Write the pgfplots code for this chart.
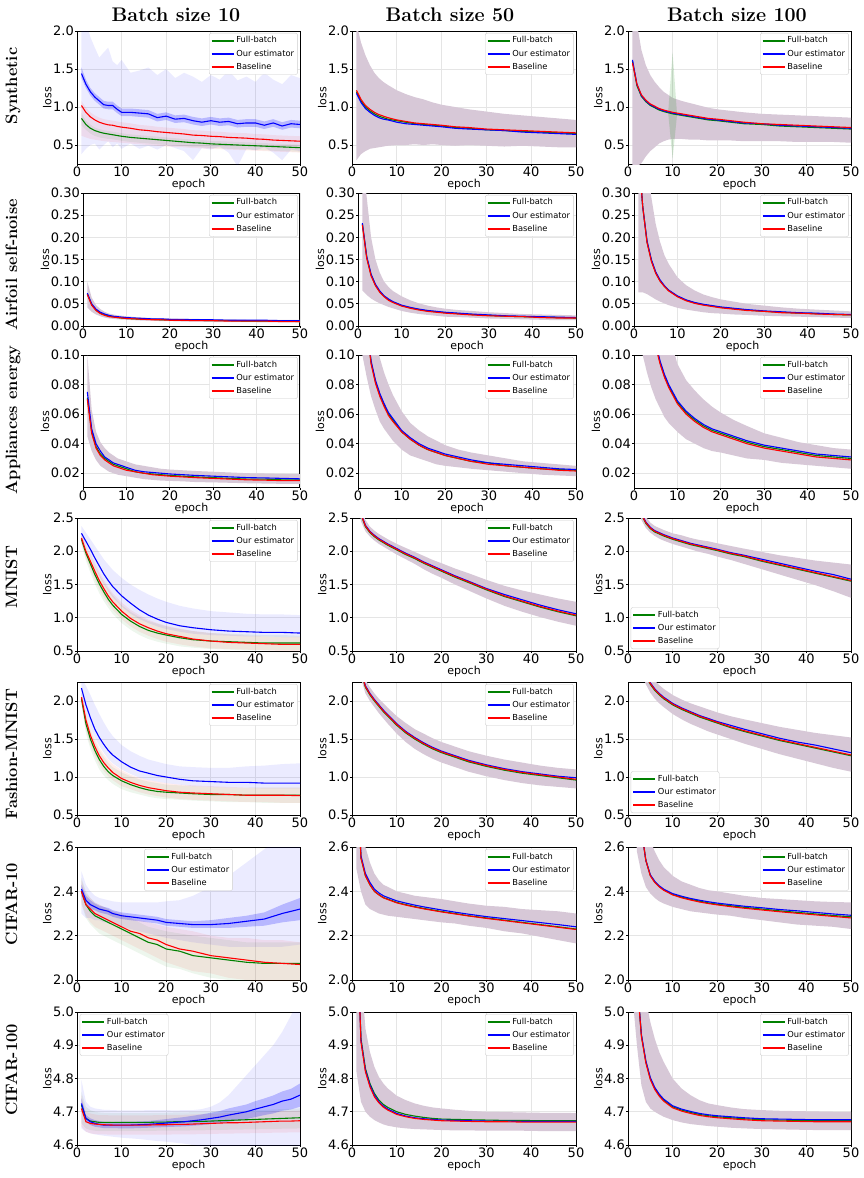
\documentclass[border=0pt]{standalone}
\usepackage{fontspec}
\usepackage{pgfplots}
\pgfplotsset{compat=1.18}
\usepackage{pgfplotstable}
\usepgfplotslibrary{fillbetween}
\newfontfamily\dv{DejaVu Sans}
\definecolor{mplgreen}{RGB}{0,128,0}
\definecolor{mplblue}{RGB}{0,0,255}
\definecolor{mplred}{RGB}{255,0,0}
\definecolor{bandmauve}{RGB}{215,200,215}

\pgfplotsset{
  panel/.style={
    scale only axis, width=223pt, height=133pt, anchor=north west,
    clip bounding box=upper bound,
    xmin=0, xmax=50, xtick={0,10,20,30,40,50},
    grid=major, grid style={draw=black!10, line width=0.8pt},
    axis line style={draw=black, line width=1pt},
    tick align=outside, xtick pos=left, ytick pos=left,
    major tick length=2pt, tick style={black, line width=0.8pt},
    ticklabel style={font=\dv\fontsize{13}{13}\selectfont, inner sep=1pt},
    /pgf/number format/assume math mode=true,
    scaled ticks=false,
    xlabel={epoch}, ylabel={loss},
    label style={font=\dv\fontsize{11}{13}\selectfont},
    xlabel style={inner sep=1pt}, ylabel style={inner sep=0.5pt},
    legend cell align=left,
    legend style={font=\dv\fontsize{8.3}{9.5}\selectfont, draw=black!20,
      rounded corners=2pt, fill=white,
      at={(0.99,0.985)}, anchor=north east, inner xsep=1.5pt, inner ysep=1.5pt,
      row sep=1pt, nodes={inner sep=2pt, text height=6.3pt, text depth=1.8pt}},
    legend image code/.code={\draw[##1, line width=1.6pt] (0pt,0pt) -- (22pt,0pt);},
  },
  yfmt/.style={yticklabel style={/pgf/number format/.cd, fixed, fixed zerofill, precision=#1}},
  gline/.style={color=mplgreen, line width=1.1pt},
  bline/.style={color=mplblue, line width=1.1pt},
  rline/.style={color=mplred, line width=1.1pt},
  gfill/.style={draw=none, fill=mplgreen, fill opacity=0.07, forget plot},
  bfill/.style={draw=none, fill=mplblue, fill opacity=0.08, forget plot},
  rfill/.style={draw=none, fill=mplred, fill opacity=0.07, forget plot},
  bnfill/.style={draw=none, fill=mplblue, fill opacity=0.22, forget plot},
  mfill/.style={draw=none, fill=bandmauve, forget plot},
  lowleft/.style={legend style={at={(0.012,0.015)}, anchor=south west}},
  upcenter/.style={legend style={at={(0.5,0.985)}, anchor=north}},
  upleft/.style={legend style={at={(0.012,0.985)}, anchor=north west}},
}

% a named boundary curve taken from one column of a table
\newcommand{\edge}[2]{\addplot[draw=none, forget plot, name path=#2] table[x=x, y=#2] {#1};}
% three mean curves and the legend
\newcommand{\means}[1]{%
  \addplot[gline] table[x=x, y=gm] {#1};
  \addplot[bline] table[x=x, y=bm] {#1};
  \addplot[rline] table[x=x, y=rm] {#1};
  \legend{Full-batch, Our estimator, Baseline}}
% one common spread for the three runs (they overlap almost exactly)
\newcommand{\sharedband}[1]{%
  \edge{#1}{lo}\edge{#1}{hi}
  \addplot[mfill] fill between[of=lo and hi];
  \means{#1}}
% a separate spread for each run
\newcommand{\ownbands}[1]{%
  \edge{#1}{glo}\edge{#1}{ghi}\edge{#1}{blo}\edge{#1}{bhi}\edge{#1}{rlo}\edge{#1}{rhi}
  \addplot[gfill] fill between[of=glo and ghi];
  \addplot[bfill] fill between[of=blo and bhi];
  \addplot[rfill] fill between[of=rlo and rhi];}

% ---------------- Synthetic ----------------
\pgfplotstableread{
x  gm    bm   rm    glo   ghi   blo  bhi  rlo   rhi   bnlo bnhi
1  0.85  1.44 1.02  0.76  0.92  0.38 2.30 0.62  1.08  1.38 1.52
2  0.77  1.30 0.93  0.70  0.82  0.45 2.12 0.60  0.99  1.25 1.36
3  0.72  1.20 0.87  0.65  0.77  0.50 1.92 0.58  0.93  1.15 1.25
4  0.69  1.13 0.83  0.62  0.73  0.52 1.78 0.57  0.89  1.08 1.18
5  0.67  1.08 0.80  0.60  0.71  0.44 1.65 0.56  0.86  1.03 1.13
6  0.655 1.03 0.78  0.59  0.695 0.50 1.72 0.55  0.84  0.98 1.08
7  0.645 1.02 0.765 0.58  0.685 0.55 1.78 0.545 0.83  0.97 1.07
8  0.635 1.02 0.76  0.575 0.675 0.47 1.60 0.54  0.82  0.97 1.07
9  0.625 0.97 0.745 0.565 0.665 0.52 1.55 0.535 0.81  0.92 1.02
10 0.615 0.93 0.735 0.555 0.655 0.45 1.62 0.53  0.80  0.88 0.98
12 0.60  0.93 0.72  0.54  0.64  0.52 1.45 0.52  0.785 0.88 0.98
14 0.59  0.92 0.70  0.53  0.63  0.45 1.48 0.51  0.765 0.87 0.97
16 0.58  0.91 0.69  0.52  0.62  0.49 1.52 0.50  0.755 0.86 0.96
18 0.57  0.86 0.675 0.51  0.61  0.44 1.42 0.49  0.74  0.81 0.91
20 0.56  0.88 0.665 0.50  0.60  0.50 1.50 0.48  0.73  0.83 0.93
22 0.55  0.84 0.655 0.495 0.59  0.46 1.38 0.475 0.72  0.79 0.89
24 0.54  0.85 0.645 0.485 0.58  0.42 1.45 0.47  0.71  0.80 0.90
26 0.53  0.82 0.63  0.475 0.57  0.30 1.40 0.46  0.695 0.77 0.87
28 0.525 0.80 0.625 0.47  0.565 0.46 1.33 0.455 0.69  0.75 0.85
30 0.515 0.82 0.615 0.46  0.555 0.44 1.42 0.45  0.68  0.77 0.87
32 0.51  0.80 0.61  0.455 0.55  0.48 1.36 0.445 0.675 0.75 0.85
34 0.505 0.81 0.60  0.45  0.545 0.40 1.48 0.44  0.665 0.76 0.86
36 0.50  0.78 0.595 0.445 0.54  0.22 1.35 0.435 0.66  0.73 0.83
38 0.495 0.79 0.59  0.44  0.535 0.45 1.40 0.43  0.655 0.74 0.84
40 0.49  0.79 0.58  0.435 0.53  0.43 1.33 0.425 0.645 0.74 0.84
42 0.485 0.76 0.575 0.43  0.525 0.47 1.45 0.42  0.64  0.71 0.81
44 0.48  0.79 0.565 0.425 0.52  0.40 1.36 0.415 0.63  0.74 0.84
46 0.475 0.75 0.56  0.42  0.515 0.30 1.30 0.41  0.625 0.70 0.80
48 0.47  0.78 0.555 0.415 0.51  0.44 1.42 0.405 0.62  0.73 0.83
50 0.465 0.77 0.55  0.41  0.505 0.42 1.38 0.40  0.615 0.72 0.82
}\synA
\pgfplotstableread{
x  gm   bm   rm   lo   hi
1  1.20 1.18 1.22 0.30 2.10
2  1.08 1.06 1.10 0.38 1.85
3  1.00 0.98 1.02 0.42 1.68
4  0.95 0.93 0.97 0.45 1.55
5  0.91 0.89 0.93 0.46 1.45
6  0.88 0.86 0.90 0.47 1.38
7  0.86 0.84 0.88 0.48 1.33
8  0.84 0.83 0.86 0.49 1.29
10 0.82 0.80 0.83 0.50 1.22
12 0.80 0.78 0.81 0.50 1.17
14 0.78 0.77 0.79 0.51 1.13
16 0.77 0.76 0.78 0.50 1.10
18 0.76 0.75 0.77 0.51 1.06
20 0.75 0.74 0.76 0.50 1.03
23 0.73 0.72 0.74 0.49 1.00
26 0.72 0.71 0.73 0.50 0.97
30 0.70 0.70 0.71 0.49 0.94
34 0.69 0.69 0.70 0.48 0.91
38 0.68 0.67 0.69 0.49 0.89
42 0.67 0.66 0.68 0.48 0.87
46 0.66 0.65 0.67 0.47 0.85
50 0.65 0.64 0.66 0.47 0.83
}\synB
\pgfplotstableread{
x  gm    bm    rm    lo   hi   sglo  sghi
1  1.60  1.62  1.58  0.20 2.60 1.60  1.60
2  1.28  1.30  1.30  0.22 2.10 1.28  1.28
3  1.14  1.15  1.16  0.26 1.75 1.14  1.14
4  1.07  1.08  1.09  0.35 1.55 1.07  1.07
5  1.02  1.03  1.04  0.42 1.42 1.02  1.02
6  0.99  1.00  1.01  0.47 1.33 0.99  0.99
7  0.96  0.97  0.98  0.52 1.26 0.96  0.96
8  0.94  0.95  0.96  0.55 1.20 0.94  0.94
9  0.925 0.935 0.945 0.57 1.16 0.925 0.925
10 0.91  0.92  0.93  0.58 1.12 0.32  1.72
11 0.90  0.91  0.92  0.58 1.10 0.90  0.90
12 0.89  0.90  0.91  0.58 1.08 0.89  0.89
14 0.87  0.88  0.89  0.57 1.05 0.87  0.87
16 0.85  0.86  0.87  0.57 1.02 0.85  0.85
18 0.83  0.84  0.85  0.56 0.99 0.83  0.83
20 0.82  0.83  0.84  0.56 0.97 0.82  0.82
23 0.80  0.81  0.82  0.56 0.95 0.80  0.80
26 0.78  0.79  0.80  0.55 0.93 0.78  0.78
30 0.77  0.78  0.78  0.55 0.91 0.77  0.77
34 0.75  0.76  0.77  0.55 0.90 0.75  0.75
38 0.74  0.75  0.76  0.54 0.89 0.74  0.74
42 0.73  0.74  0.75  0.54 0.88 0.73  0.73
46 0.72  0.73  0.74  0.54 0.87 0.72  0.72
50 0.71  0.72  0.73  0.53 0.86 0.71  0.71
}\synC

% ---------------- Airfoil self-noise ----------------
\pgfplotstableread{
x  gm    bm    rm    lo    hi
1  0.072 0.074 0.071 0.042 0.100
2  0.048 0.050 0.047 0.032 0.064
3  0.036 0.038 0.035 0.026 0.047
4  0.029 0.031 0.028 0.022 0.038
5  0.025 0.027 0.024 0.019 0.032
6  0.022 0.024 0.021 0.017 0.028
7  0.021 0.022 0.020 0.016 0.026
8  0.019 0.021 0.019 0.015 0.024
10 0.017 0.019 0.017 0.014 0.022
12 0.016 0.018 0.016 0.013 0.020
14 0.015 0.017 0.015 0.012 0.019
16 0.015 0.016 0.014 0.012 0.018
18 0.014 0.016 0.014 0.011 0.018
20 0.014 0.015 0.013 0.011 0.017
23 0.013 0.015 0.013 0.010 0.016
26 0.013 0.014 0.012 0.010 0.016
30 0.012 0.014 0.012 0.009 0.015
34 0.012 0.013 0.011 0.009 0.015
38 0.011 0.013 0.011 0.009 0.014
42 0.011 0.013 0.011 0.008 0.014
46 0.011 0.012 0.010 0.008 0.014
50 0.010 0.012 0.010 0.008 0.014
}\airA
\pgfplotstableread{
x  gm    bm    rm    lo    hi
1  0.230 0.232 0.228 0.080 0.380
2  0.155 0.157 0.153 0.070 0.290
3  0.115 0.117 0.113 0.062 0.200
4  0.092 0.094 0.091 0.056 0.150
5  0.077 0.079 0.076 0.051 0.120
6  0.067 0.068 0.066 0.047 0.100
7  0.059 0.061 0.058 0.043 0.088
8  0.054 0.055 0.053 0.040 0.079
10 0.046 0.047 0.045 0.034 0.067
12 0.041 0.042 0.040 0.030 0.058
14 0.037 0.038 0.036 0.027 0.051
16 0.034 0.035 0.033 0.025 0.046
18 0.032 0.033 0.031 0.023 0.042
20 0.030 0.031 0.029 0.021 0.039
23 0.028 0.029 0.027 0.020 0.036
26 0.026 0.027 0.025 0.019 0.034
30 0.024 0.025 0.023 0.017 0.031
34 0.022 0.023 0.022 0.016 0.029
38 0.021 0.022 0.021 0.015 0.027
42 0.020 0.021 0.019 0.014 0.026
46 0.019 0.020 0.018 0.013 0.025
50 0.018 0.019 0.018 0.013 0.024
}\airB
\pgfplotstableread{
x  gm    bm    rm    lo    hi
1  0.400 0.400 0.400 0.076 0.700
2  0.270 0.270 0.270 0.076 0.500
3  0.190 0.192 0.188 0.072 0.360
4  0.148 0.150 0.146 0.066 0.290
5  0.120 0.122 0.119 0.060 0.230
6  0.102 0.104 0.101 0.055 0.190
7  0.090 0.091 0.089 0.051 0.160
8  0.080 0.081 0.079 0.047 0.140
10 0.067 0.068 0.066 0.041 0.110
12 0.058 0.059 0.057 0.037 0.092
14 0.052 0.053 0.051 0.034 0.080
16 0.048 0.049 0.047 0.031 0.071
18 0.045 0.046 0.044 0.029 0.065
20 0.042 0.043 0.041 0.028 0.060
23 0.039 0.040 0.038 0.026 0.055
26 0.036 0.037 0.035 0.025 0.050
30 0.033 0.034 0.033 0.023 0.046
34 0.031 0.032 0.030 0.022 0.042
38 0.029 0.030 0.029 0.021 0.039
42 0.028 0.029 0.027 0.020 0.037
46 0.026 0.027 0.026 0.019 0.035
50 0.025 0.026 0.025 0.018 0.033
}\airC

% ---------------- Appliances energy ----------------
\pgfplotstableread{
x  gm     bm     rm     lo     hi
1  0.071  0.075  0.070  0.045  0.100
2  0.048  0.050  0.047  0.035  0.063
3  0.038  0.040  0.037  0.029  0.048
4  0.033  0.035  0.032  0.025  0.041
5  0.030  0.031  0.029  0.023  0.037
6  0.028  0.029  0.027  0.021  0.034
7  0.026  0.027  0.025  0.020  0.032
8  0.025  0.026  0.024  0.019  0.030
10 0.023  0.024  0.022  0.018  0.028
12 0.021  0.022  0.021  0.017  0.026
14 0.020  0.021  0.020  0.016  0.025
16 0.0195 0.0205 0.019  0.0155 0.024
18 0.019  0.020  0.0185 0.015  0.023
20 0.0185 0.0195 0.018  0.0148 0.0225
23 0.018  0.019  0.0175 0.0145 0.022
26 0.0175 0.0185 0.017  0.014  0.0215
30 0.017  0.018  0.0165 0.0138 0.021
34 0.0165 0.0175 0.016  0.0135 0.0205
38 0.016  0.017  0.0155 0.0132 0.020
42 0.016  0.0168 0.0153 0.013  0.0198
46 0.0155 0.0165 0.015  0.0128 0.0195
50 0.0155 0.0162 0.015  0.0127 0.0193
}\appA
\pgfplotstableread{
x  gm     bm     rm     lo     hi
1  0.160  0.161  0.159  0.100  0.250
2  0.120  0.121  0.119  0.085  0.180
3  0.095  0.096  0.094  0.072  0.140
4  0.082  0.083  0.081  0.063  0.115
5  0.073  0.074  0.072  0.055  0.098
6  0.066  0.067  0.065  0.050  0.088
7  0.060  0.061  0.059  0.046  0.080
8  0.056  0.057  0.055  0.042  0.073
10 0.048  0.049  0.048  0.036  0.062
12 0.043  0.044  0.043  0.032  0.054
14 0.039  0.040  0.039  0.030  0.049
16 0.036  0.037  0.036  0.028  0.045
18 0.034  0.035  0.034  0.026  0.042
20 0.032  0.033  0.032  0.025  0.039
23 0.030  0.031  0.030  0.024  0.036
26 0.028  0.029  0.028  0.023  0.034
30 0.027  0.027  0.026  0.022  0.032
34 0.025  0.026  0.025  0.021  0.030
38 0.024  0.025  0.024  0.020  0.028
42 0.023  0.024  0.023  0.019  0.027
46 0.0225 0.023  0.022  0.0185 0.026
50 0.022  0.0225 0.0215 0.018  0.025
}\appB
\pgfplotstableread{
x  gm    bm    rm    lo    hi
1  0.250 0.251 0.249 0.120 0.400
2  0.190 0.191 0.189 0.100 0.320
3  0.150 0.151 0.149 0.088 0.260
4  0.125 0.126 0.124 0.078 0.210
5  0.107 0.108 0.106 0.070 0.175
6  0.095 0.096 0.094 0.064 0.150
7  0.086 0.087 0.085 0.058 0.130
8  0.079 0.080 0.078 0.054 0.115
10 0.068 0.069 0.067 0.048 0.094
12 0.061 0.062 0.060 0.043 0.083
14 0.056 0.057 0.055 0.040 0.076
16 0.052 0.053 0.051 0.037 0.070
18 0.049 0.050 0.048 0.035 0.065
20 0.047 0.048 0.046 0.034 0.061
23 0.044 0.045 0.043 0.032 0.056
26 0.041 0.042 0.040 0.030 0.052
30 0.038 0.039 0.037 0.029 0.047
34 0.036 0.037 0.035 0.027 0.044
38 0.034 0.035 0.033 0.026 0.041
42 0.032 0.033 0.031 0.025 0.039
46 0.031 0.032 0.030 0.024 0.037
50 0.030 0.031 0.029 0.023 0.036
}\appC

% ---------------- MNIST ----------------
\pgfplotstableread{
x  gm   bm   rm   glo  ghi  blo  bhi  rlo  rhi
1  2.18 2.27 2.20 2.10 2.24 2.20 2.38 2.12 2.27
2  1.97 2.15 2.00 1.86 2.06 2.06 2.28 1.90 2.09
3  1.81 2.03 1.85 1.68 1.92 1.92 2.18 1.73 1.96
4  1.65 1.90 1.70 1.51 1.78 1.77 2.08 1.57 1.82
5  1.51 1.78 1.56 1.37 1.65 1.63 1.98 1.43 1.69
6  1.39 1.66 1.44 1.25 1.53 1.51 1.88 1.31 1.57
7  1.28 1.56 1.33 1.15 1.43 1.40 1.80 1.21 1.46
8  1.19 1.47 1.24 1.06 1.34 1.31 1.72 1.12 1.37
10 1.05 1.33 1.10 0.92 1.19 1.17 1.60 0.98 1.23
12 0.95 1.22 0.99 0.82 1.09 1.06 1.50 0.87 1.12
14 0.87 1.12 0.91 0.74 1.01 0.98 1.42 0.79 1.04
16 0.81 1.04 0.85 0.68 0.95 0.92 1.35 0.73 0.97
18 0.77 0.98 0.80 0.64 0.91 0.87 1.29 0.68 0.92
20 0.74 0.93 0.76 0.61 0.87 0.83 1.24 0.64 0.88
23 0.70 0.88 0.72 0.57 0.83 0.79 1.18 0.60 0.84
26 0.67 0.85 0.68 0.55 0.80 0.76 1.14 0.57 0.80
30 0.65 0.82 0.65 0.53 0.77 0.74 1.10 0.54 0.77
34 0.64 0.80 0.63 0.52 0.76 0.73 1.08 0.53 0.75
38 0.63 0.79 0.62 0.51 0.75 0.72 1.06 0.52 0.73
42 0.62 0.78 0.61 0.51 0.74 0.72 1.05 0.51 0.72
46 0.62 0.78 0.60 0.51 0.74 0.71 1.05 0.50 0.71
50 0.62 0.77 0.60 0.51 0.73 0.71 1.04 0.50 0.71
}\mniA
\pgfplotstableread{
x  gm   bm   rm   lo   hi
1  3.00 3.02 3.01 2.90 3.10
2  2.55 2.57 2.56 2.45 2.65
3  2.37 2.39 2.38 2.30 2.47
4  2.28 2.30 2.29 2.22 2.37
5  2.22 2.24 2.23 2.16 2.31
6  2.17 2.19 2.18 2.11 2.26
7  2.13 2.15 2.14 2.07 2.22
8  2.09 2.11 2.10 2.03 2.18
10 2.02 2.04 2.03 1.95 2.11
12 1.95 1.97 1.96 1.88 2.05
14 1.89 1.91 1.90 1.81 1.99
16 1.82 1.84 1.83 1.73 1.93
18 1.76 1.78 1.77 1.66 1.87
20 1.70 1.72 1.71 1.60 1.82
23 1.61 1.63 1.62 1.50 1.74
26 1.53 1.55 1.54 1.41 1.67
30 1.42 1.44 1.43 1.29 1.57
34 1.32 1.35 1.33 1.18 1.48
38 1.24 1.27 1.25 1.09 1.41
42 1.16 1.19 1.17 1.01 1.35
46 1.09 1.12 1.10 0.94 1.29
50 1.03 1.06 1.04 0.88 1.24
}\mniB
\pgfplotstableread{
x  gm   bm   rm   lo   hi
1  3.20 3.22 3.21 3.05 3.35
2  2.80 2.82 2.81 2.70 2.92
3  2.55 2.57 2.56 2.47 2.65
4  2.42 2.44 2.43 2.35 2.52
5  2.34 2.36 2.35 2.28 2.43
6  2.29 2.31 2.30 2.23 2.38
7  2.26 2.28 2.27 2.19 2.35
8  2.23 2.25 2.24 2.16 2.32
10 2.18 2.20 2.19 2.11 2.27
12 2.14 2.16 2.15 2.07 2.24
14 2.10 2.12 2.11 2.03 2.20
16 2.07 2.09 2.08 1.99 2.17
18 2.04 2.06 2.05 1.96 2.15
20 2.01 2.03 2.02 1.92 2.12
23 1.96 1.98 1.97 1.87 2.08
26 1.92 1.94 1.93 1.81 2.04
30 1.85 1.88 1.86 1.73 1.99
34 1.79 1.82 1.80 1.65 1.94
38 1.73 1.76 1.74 1.57 1.90
42 1.67 1.70 1.68 1.49 1.86
46 1.61 1.65 1.62 1.40 1.83
50 1.55 1.58 1.56 1.30 1.80
}\mniC

% ---------------- Fashion-MNIST ----------------
\pgfplotstableread{
x  gm   bm   rm    glo  ghi  blo  bhi  rlo  rhi
1  2.03 2.17 2.05  1.95 2.10 2.08 2.30 1.97 2.12
2  1.70 1.95 1.75  1.58 1.82 1.84 2.20 1.62 1.86
3  1.50 1.78 1.55  1.37 1.62 1.66 2.08 1.42 1.66
4  1.35 1.63 1.40  1.22 1.47 1.52 1.95 1.28 1.51
5  1.23 1.52 1.28  1.10 1.35 1.41 1.83 1.16 1.39
6  1.14 1.43 1.19  1.02 1.26 1.32 1.72 1.08 1.30
7  1.07 1.35 1.12  0.96 1.19 1.24 1.62 1.01 1.23
8  1.02 1.29 1.06  0.91 1.13 1.18 1.54 0.96 1.17
10 0.95 1.20 0.98  0.84 1.06 1.10 1.42 0.88 1.09
12 0.90 1.13 0.93  0.80 1.01 1.04 1.34 0.84 1.03
14 0.86 1.08 0.89  0.77 0.97 0.99 1.28 0.80 0.99
16 0.83 1.05 0.86  0.74 0.94 0.96 1.23 0.77 0.96
18 0.81 1.02 0.84  0.72 0.92 0.94 1.20 0.75 0.94
20 0.80 1.00 0.82  0.71 0.90 0.92 1.17 0.73 0.92
23 0.79 0.97 0.80  0.70 0.89 0.90 1.14 0.71 0.90
26 0.78 0.95 0.79  0.69 0.88 0.88 1.13 0.70 0.89
30 0.77 0.94 0.78  0.68 0.87 0.87 1.12 0.69 0.88
34 0.77 0.93 0.77  0.67 0.86 0.86 1.12 0.68 0.87
38 0.76 0.93 0.76  0.67 0.86 0.86 1.14 0.67 0.86
42 0.76 0.92 0.76  0.66 0.86 0.85 1.15 0.67 0.86
46 0.76 0.92 0.76  0.66 0.86 0.85 1.17 0.66 0.86
50 0.76 0.92 0.755 0.66 0.86 0.85 1.18 0.66 0.86
}\fasA
\pgfplotstableread{
x  gm   bm   rm   lo   hi
1  2.75 2.77 2.76 2.65 2.85
2  2.38 2.40 2.39 2.30 2.48
3  2.18 2.20 2.19 2.10 2.28
4  2.08 2.10 2.09 2.00 2.18
5  2.00 2.02 2.01 1.92 2.10
6  1.93 1.95 1.94 1.84 2.03
7  1.86 1.88 1.87 1.77 1.97
8  1.80 1.82 1.81 1.70 1.91
10 1.68 1.70 1.69 1.57 1.80
12 1.58 1.60 1.59 1.46 1.71
14 1.50 1.52 1.51 1.37 1.63
16 1.43 1.45 1.44 1.30 1.57
18 1.37 1.39 1.38 1.24 1.51
20 1.32 1.34 1.33 1.19 1.46
23 1.26 1.28 1.27 1.13 1.40
26 1.20 1.22 1.21 1.07 1.34
30 1.14 1.16 1.15 1.01 1.28
34 1.09 1.11 1.10 0.96 1.23
38 1.05 1.07 1.06 0.92 1.19
42 1.02 1.04 1.03 0.89 1.15
46 0.99 1.01 1.00 0.87 1.12
50 0.96 0.99 0.97 0.85 1.10
}\fasB
\pgfplotstableread{
x  gm   bm   rm   lo   hi
1  3.10 3.12 3.11 2.95 3.25
2  2.75 2.77 2.76 2.62 2.88
3  2.50 2.52 2.51 2.38 2.63
4  2.33 2.35 2.34 2.22 2.46
5  2.22 2.24 2.23 2.11 2.35
6  2.14 2.16 2.15 2.03 2.27
7  2.08 2.10 2.09 1.97 2.21
8  2.03 2.05 2.04 1.92 2.16
10 1.95 1.97 1.96 1.83 2.08
12 1.89 1.91 1.90 1.76 2.02
14 1.84 1.86 1.85 1.70 1.97
16 1.79 1.81 1.80 1.65 1.93
18 1.75 1.77 1.76 1.60 1.89
20 1.71 1.73 1.72 1.56 1.85
23 1.65 1.68 1.66 1.50 1.80
26 1.60 1.63 1.61 1.44 1.76
30 1.54 1.57 1.55 1.37 1.71
34 1.48 1.51 1.49 1.30 1.66
38 1.43 1.46 1.44 1.24 1.62
42 1.38 1.42 1.39 1.18 1.58
46 1.33 1.37 1.34 1.12 1.55
50 1.28 1.32 1.29 1.07 1.52
}\fasC

% ---------------- CIFAR-10 ----------------
\pgfplotstableread{
x  gm    bm    rm    glo  ghi  blo  bhi   rlo  rhi  bnlo  bnhi
1  2.40  2.41  2.40  2.34 2.46 2.30 2.49  2.35 2.45 2.38  2.43
2  2.34  2.36  2.34  2.28 2.40 2.28 2.43  2.29 2.39 2.34  2.38
3  2.31  2.34  2.32  2.25 2.37 2.28 2.40  2.26 2.37 2.32  2.36
4  2.29  2.33  2.30  2.23 2.35 2.27 2.38  2.24 2.35 2.315 2.345
5  2.28  2.32  2.29  2.21 2.34 2.27 2.37  2.23 2.34 2.305 2.335
6  2.27  2.315 2.28  2.20 2.33 2.26 2.365 2.22 2.33 2.30  2.33
7  2.26  2.31  2.27  2.19 2.32 2.26 2.36  2.21 2.32 2.295 2.325
8  2.25  2.30  2.26  2.18 2.31 2.25 2.355 2.20 2.31 2.285 2.315
10 2.23  2.29  2.24  2.16 2.29 2.24 2.35  2.18 2.30 2.275 2.305
12 2.21  2.285 2.22  2.14 2.28 2.23 2.35  2.16 2.28 2.27  2.30
14 2.19  2.28  2.21  2.12 2.26 2.22 2.35  2.14 2.27 2.265 2.295
16 2.17  2.275 2.19  2.10 2.24 2.21 2.35  2.12 2.26 2.26  2.29
18 2.16  2.27  2.18  2.08 2.23 2.20 2.35  2.10 2.25 2.255 2.285
20 2.14  2.26  2.16  2.06 2.22 2.19 2.355 2.08 2.24 2.245 2.275
23 2.13  2.255 2.14  2.05 2.21 2.18 2.36  2.06 2.23 2.24  2.27
26 2.11  2.25  2.13  2.03 2.20 2.17 2.38  2.04 2.22 2.235 2.265
30 2.10  2.25  2.11  2.01 2.19 2.16 2.42  2.03 2.20 2.235 2.27
34 2.09  2.255 2.10  2.00 2.18 2.15 2.47  2.01 2.19 2.235 2.28
38 2.08  2.265 2.09  1.99 2.17 2.15 2.53  2.00 2.19 2.24  2.29
42 2.075 2.275 2.08  1.98 2.17 2.15 2.59  1.99 2.18 2.245 2.305
46 2.075 2.30  2.075 1.98 2.17 2.15 2.65  1.98 2.18 2.26  2.34
50 2.075 2.32  2.07  1.97 2.17 2.16 2.72  1.97 2.17 2.27  2.37
}\cifA
\pgfplotstableread{
x  gm    bm    rm    lo    hi
1  3.00  3.01  3.00  2.50  3.30
2  2.55  2.56  2.55  2.40  2.75
3  2.47  2.48  2.47  2.34  2.60
4  2.43  2.44  2.43  2.32  2.53
5  2.40  2.41  2.40  2.31  2.48
6  2.385 2.393 2.384 2.30  2.45
7  2.372 2.38  2.371 2.295 2.43
8  2.365 2.372 2.363 2.29  2.42
10 2.35  2.357 2.348 2.285 2.40
12 2.34  2.347 2.338 2.28  2.39
14 2.331 2.338 2.329 2.275 2.38
16 2.323 2.33  2.321 2.27  2.375
18 2.316 2.323 2.314 2.265 2.37
20 2.309 2.316 2.307 2.26  2.365
23 2.30  2.306 2.298 2.255 2.355
26 2.29  2.297 2.289 2.245 2.345
30 2.28  2.286 2.278 2.235 2.335
34 2.27  2.277 2.268 2.22  2.33
38 2.26  2.268 2.258 2.21  2.32
42 2.25  2.259 2.248 2.195 2.315
46 2.24  2.25  2.238 2.18  2.31
50 2.23  2.24  2.228 2.165 2.30
}\cifB
\pgfplotstableread{
x  gm    bm    rm    lo    hi
1  3.40  3.40  3.40  3.00  3.80
2  2.95  2.95  2.95  2.58  3.30
3  2.68  2.68  2.68  2.48  2.95
4  2.54  2.54  2.54  2.42  2.75
5  2.472 2.475 2.47  2.39  2.63
6  2.442 2.445 2.44  2.37  2.58
7  2.422 2.425 2.42  2.355 2.54
8  2.407 2.41  2.405 2.345 2.51
10 2.386 2.39  2.384 2.33  2.47
12 2.374 2.378 2.371 2.32  2.445
14 2.364 2.368 2.361 2.31  2.43
16 2.356 2.36  2.352 2.305 2.415
18 2.348 2.353 2.345 2.30  2.405
20 2.342 2.347 2.339 2.295 2.40
23 2.335 2.34  2.331 2.29  2.39
26 2.328 2.333 2.324 2.28  2.38
30 2.32  2.326 2.316 2.27  2.37
34 2.312 2.318 2.308 2.26  2.365
38 2.305 2.312 2.301 2.25  2.36
42 2.298 2.305 2.294 2.245 2.355
46 2.291 2.298 2.287 2.24  2.352
50 2.285 2.292 2.28  2.23  2.35
}\cifC

% ---------------- CIFAR-100 ----------------
\pgfplotstableread{
x  gm    bm    rm    glo   ghi   blo   bhi   rlo   rhi   bnlo  bnhi
1  4.72  4.725 4.71  4.665 4.76  4.65  4.795 4.655 4.75  4.71  4.74
2  4.68  4.68  4.67  4.65  4.715 4.64  4.73  4.64  4.70  4.67  4.69
3  4.672 4.67  4.665 4.645 4.705 4.635 4.715 4.635 4.695 4.66  4.68
4  4.670 4.665 4.663 4.643 4.70  4.632 4.71  4.633 4.692 4.655 4.675
5  4.668 4.662 4.662 4.642 4.698 4.630 4.708 4.632 4.69  4.653 4.672
6  4.668 4.66  4.661 4.642 4.697 4.628 4.706 4.632 4.69  4.651 4.670
8  4.668 4.66  4.660 4.642 4.696 4.625 4.705 4.631 4.689 4.651 4.669
10 4.668 4.66  4.660 4.642 4.696 4.622 4.704 4.631 4.689 4.650 4.670
12 4.668 4.66  4.660 4.642 4.696 4.620 4.704 4.631 4.689 4.650 4.670
14 4.668 4.661 4.660 4.642 4.696 4.618 4.704 4.631 4.689 4.651 4.671
16 4.668 4.662 4.660 4.642 4.696 4.615 4.705 4.631 4.689 4.652 4.672
18 4.669 4.664 4.661 4.643 4.697 4.612 4.705 4.631 4.690 4.653 4.675
20 4.669 4.666 4.661 4.643 4.697 4.610 4.705 4.631 4.690 4.654 4.678
22 4.670 4.668 4.662 4.643 4.698 4.607 4.704 4.632 4.691 4.655 4.681
24 4.670 4.670 4.662 4.643 4.698 4.604 4.705 4.632 4.691 4.656 4.684
26 4.671 4.673 4.663 4.644 4.699 4.600 4.705 4.632 4.692 4.658 4.688
28 4.671 4.676 4.664 4.644 4.699 4.595 4.708 4.633 4.693 4.660 4.692
30 4.672 4.680 4.665 4.645 4.700 4.590 4.715 4.633 4.694 4.663 4.697
32 4.673 4.684 4.666 4.645 4.701 4.585 4.728 4.634 4.695 4.666 4.702
34 4.674 4.690 4.667 4.646 4.702 4.580 4.750 4.634 4.696 4.670 4.710
36 4.675 4.695 4.667 4.646 4.703 4.575 4.780 4.635 4.697 4.674 4.716
38 4.676 4.700 4.668 4.647 4.704 4.570 4.810 4.635 4.698 4.678 4.722
40 4.677 4.708 4.669 4.647 4.705 4.565 4.840 4.636 4.699 4.684 4.732
42 4.678 4.715 4.670 4.648 4.706 4.560 4.870 4.636 4.700 4.690 4.740
44 4.679 4.722 4.671 4.648 4.707 4.555 4.900 4.637 4.701 4.695 4.749
46 4.680 4.732 4.672 4.649 4.708 4.550 4.940 4.637 4.702 4.703 4.761
48 4.681 4.738 4.672 4.649 4.709 4.545 4.990 4.638 4.703 4.707 4.769
50 4.682 4.750 4.673 4.650 4.710 4.540 5.050 4.638 4.704 4.715 4.785
}\cihA
\pgfplotstableread{
x  gm    bm    rm    lo    hi
1  5.30  5.30  5.30  4.82  5.80
2  4.92  4.915 4.91  4.73  5.12
3  4.83  4.825 4.82  4.70  4.95
4  4.785 4.78  4.775 4.685 4.88
5  4.755 4.75  4.745 4.675 4.835
6  4.735 4.73  4.727 4.668 4.805
7  4.722 4.717 4.714 4.662 4.785
8  4.713 4.708 4.705 4.658 4.77
10 4.700 4.695 4.692 4.653 4.748
12 4.692 4.687 4.685 4.650 4.735
14 4.687 4.682 4.680 4.648 4.725
16 4.683 4.679 4.677 4.647 4.718
18 4.680 4.677 4.675 4.646 4.713
20 4.678 4.675 4.673 4.645 4.71
23 4.677 4.674 4.672 4.644 4.706
26 4.676 4.673 4.671 4.644 4.703
30 4.675 4.672 4.670 4.643 4.700
34 4.674 4.672 4.670 4.643 4.699
38 4.674 4.671 4.669 4.643 4.698
42 4.673 4.671 4.669 4.642 4.697
46 4.673 4.671 4.669 4.642 4.697
50 4.673 4.671 4.669 4.642 4.696
}\cihB
\pgfplotstableread{
x  gm    bm    rm    lo    hi
1  5.40  5.40  5.40  5.05  5.90
2  5.10  5.10  5.10  4.90  5.40
3  4.93  4.933 4.927 4.78  5.15
4  4.85  4.853 4.847 4.73  5.04
5  4.80  4.803 4.797 4.71  4.97
6  4.77  4.773 4.767 4.70  4.92
7  4.75  4.753 4.747 4.692 4.88
8  4.735 4.738 4.732 4.685 4.85
10 4.715 4.718 4.712 4.675 4.80
12 4.705 4.708 4.702 4.668 4.77
14 4.698 4.701 4.695 4.663 4.75
16 4.692 4.695 4.689 4.66  4.735
18 4.688 4.691 4.685 4.657 4.725
20 4.685 4.688 4.682 4.655 4.72
23 4.682 4.685 4.679 4.652 4.713
26 4.679 4.682 4.676 4.65  4.708
30 4.676 4.679 4.673 4.648 4.705
34 4.675 4.678 4.672 4.647 4.703
38 4.674 4.677 4.671 4.646 4.702
42 4.673 4.676 4.670 4.645 4.701
46 4.673 4.676 4.670 4.645 4.70
50 4.673 4.676 4.670 4.645 4.70
}\cihC

\begin{document}
\begin{tikzpicture}[x=1pt, y=1pt]
% page frame
\path (0,0) rectangle (863,-1178);

% column titles
\begin{scope}[every node/.style={anchor=base, font=\fontsize{19.7}{24}\selectfont\bfseries}]
\node at (176,-21) {Batch size 10};
\node at (450,-21) {Batch size 50};
\node at (737,-21) {Batch size 100};
\end{scope}
% row titles
\begin{scope}[every node/.style={anchor=base, rotate=90, font=\fontsize{16.5}{20}\selectfont\bfseries}]
\node at (17,-86)   {Synthetic};
\node at (17,-265)  {Airfoil self-noise};
\node at (17,-420)  {Appliances energy};
\node at (17,-577)  {MNIST};
\node at (17,-754)  {Fashion-MNIST};
\node at (17,-904)  {CIFAR-10};
\node at (17,-1070) {CIFAR-100};
\end{scope}

% ===== row 1: Synthetic =====
\begin{axis}[panel, at={(77pt,-31pt)}, ymin=0.25, ymax=2.0, ytick={0.5,1.0,1.5,2.0}, yfmt=1]
  \ownbands{\synA}
  \edge{\synA}{bnlo}\edge{\synA}{bnhi}
  \addplot[bnfill] fill between[of=bnlo and bnhi];
  \means{\synA}
\end{axis}
\begin{axis}[panel, at={(352pt,-31pt)}, width=224pt, ymin=0.25, ymax=2.0, ytick={0.5,1.0,1.5,2.0}, yfmt=1]
  \sharedband{\synB}
\end{axis}
\begin{axis}[panel, at={(628pt,-31pt)}, ymin=0.25, ymax=2.0, ytick={0.5,1.0,1.5,2.0}, yfmt=1]
  \edge{\synC}{lo}\edge{\synC}{hi}\edge{\synC}{sglo}\edge{\synC}{sghi}
  \addplot[mfill] fill between[of=lo and hi];
  \addplot[draw=none, fill=mplgreen, fill opacity=0.15, forget plot] fill between[of=sglo and sghi];
  \means{\synC}
\end{axis}

% ===== row 2: Airfoil self-noise =====
\begin{axis}[panel, at={(83pt,-193pt)}, width=217pt, ymin=0, ymax=0.30, ytick={0,0.05,0.10,0.15,0.20,0.25,0.30}, yfmt=2]
  \sharedband{\airA}
\end{axis}
\begin{axis}[panel, at={(358pt,-193pt)}, width=218pt, ymin=0, ymax=0.30, ytick={0,0.05,0.10,0.15,0.20,0.25,0.30}, yfmt=2]
  \sharedband{\airB}
\end{axis}
\begin{axis}[panel, at={(634pt,-193pt)}, width=217pt, ymin=0, ymax=0.30, ytick={0,0.05,0.10,0.15,0.20,0.25,0.30}, yfmt=2]
  \sharedband{\airC}
\end{axis}

% ===== row 3: Appliances energy =====
\begin{axis}[panel, at={(83pt,-355pt)}, width=217pt, ymin=0.01, ymax=0.10, ytick={0.02,0.04,0.06,0.08,0.10}, yfmt=2]
  \sharedband{\appA}
\end{axis}
\begin{axis}[panel, at={(358pt,-355pt)}, width=218pt, ymin=0.01, ymax=0.10, ytick={0.02,0.04,0.06,0.08,0.10}, yfmt=2]
  \sharedband{\appB}
\end{axis}
\begin{axis}[panel, at={(634pt,-355pt)}, width=217pt, ymin=0.01, ymax=0.10, ytick={0.02,0.04,0.06,0.08,0.10}, yfmt=2]
  \sharedband{\appC}
\end{axis}

% ===== row 4: MNIST =====
\begin{axis}[panel, at={(77pt,-518pt)}, ymin=0.5, ymax=2.5, ytick={0.5,1.0,1.5,2.0,2.5}, yfmt=1]
  \ownbands{\mniA}
  \means{\mniA}
\end{axis}
\begin{axis}[panel, at={(352pt,-518pt)}, width=224pt, ymin=0.5, ymax=2.5, ytick={0.5,1.0,1.5,2.0,2.5}, yfmt=1]
  \sharedband{\mniB}
\end{axis}
\begin{axis}[panel, at={(628pt,-518pt)}, lowleft, ymin=0.5, ymax=2.5, ytick={0.5,1.0,1.5,2.0,2.5}, yfmt=1]
  \sharedband{\mniC}
\end{axis}

% ===== row 5: Fashion-MNIST =====
\begin{axis}[panel, at={(77pt,-682pt)}, ymin=0.5, ymax=2.25, ytick={0.5,1.0,1.5,2.0}, yfmt=1]
  \ownbands{\fasA}
  \means{\fasA}
\end{axis}
\begin{axis}[panel, at={(352pt,-682pt)}, width=224pt, ymin=0.5, ymax=2.25, ytick={0.5,1.0,1.5,2.0}, yfmt=1]
  \sharedband{\fasB}
\end{axis}
\begin{axis}[panel, at={(628pt,-682pt)}, lowleft, ymin=0.5, ymax=2.25, ytick={0.5,1.0,1.5,2.0}, yfmt=1]
  \sharedband{\fasC}
\end{axis}

% ===== row 6: CIFAR-10 =====
\begin{axis}[panel, at={(77pt,-847pt)}, upcenter, ymin=2.0, ymax=2.6, ytick={2.0,2.2,2.4,2.6}, yfmt=1]
  \ownbands{\cifA}
  \edge{\cifA}{bnlo}\edge{\cifA}{bnhi}
  \addplot[bnfill] fill between[of=bnlo and bnhi];
  \means{\cifA}
\end{axis}
\begin{axis}[panel, at={(352pt,-847pt)}, width=224pt, ymin=2.0, ymax=2.6, ytick={2.0,2.2,2.4,2.6}, yfmt=1]
  \sharedband{\cifB}
\end{axis}
\begin{axis}[panel, at={(628pt,-847pt)}, ymin=2.0, ymax=2.6, ytick={2.0,2.2,2.4,2.6}, yfmt=1]
  \sharedband{\cifC}
\end{axis}

% ===== row 7: CIFAR-100 =====
\begin{axis}[panel, at={(77pt,-1012pt)}, upleft, ymin=4.6, ymax=5.0, ytick={4.6,4.7,4.8,4.9,5.0}, yfmt=1]
  \ownbands{\cihA}
  \edge{\cihA}{bnlo}\edge{\cihA}{bnhi}
  \addplot[bnfill] fill between[of=bnlo and bnhi];
  \means{\cihA}
\end{axis}
\begin{axis}[panel, at={(352pt,-1012pt)}, width=224pt, ymin=4.6, ymax=5.0, ytick={4.6,4.7,4.8,4.9,5.0}, yfmt=1]
  \sharedband{\cihB}
\end{axis}
\begin{axis}[panel, at={(628pt,-1012pt)}, ymin=4.6, ymax=5.0, ytick={4.6,4.7,4.8,4.9,5.0}, yfmt=1]
  \sharedband{\cihC}
\end{axis}
\end{tikzpicture}
\end{document}
